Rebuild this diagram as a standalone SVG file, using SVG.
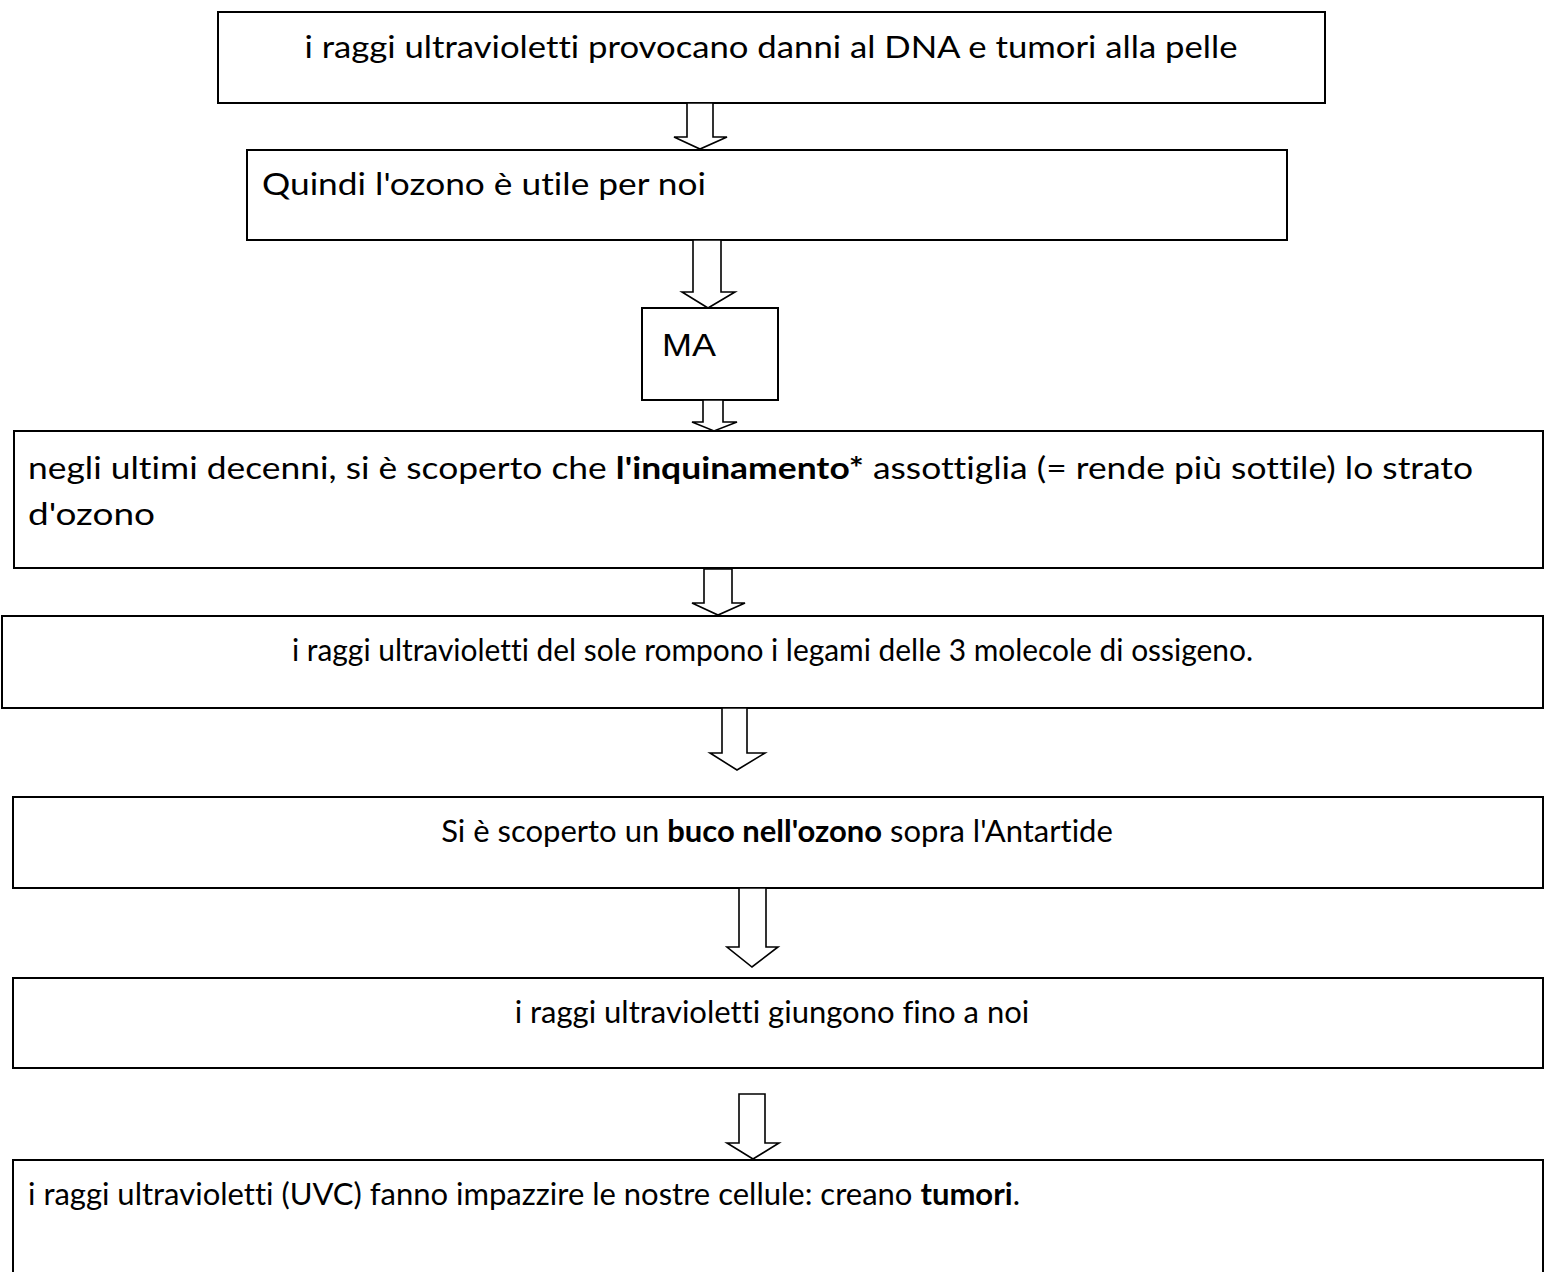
<svg xmlns="http://www.w3.org/2000/svg" width="1544" height="1272" viewBox="0 0 1544 1272">
<style>
.box{fill:#fff;stroke:#000;stroke-width:2}
.arr{fill:#fff;stroke:#000;stroke-width:1.6;stroke-linejoin:miter}
.t{font-family:Lato,"Open Sans","Liberation Sans",sans-serif;font-size:31px;fill:#000;font-variant-ligatures:none}
.m{text-anchor:middle}
.b{font-weight:bold}
.ma{font-family:"Liberation Sans",Arial,sans-serif;font-size:32px;fill:#000}
</style>
<rect width="1544" height="1272" fill="#fff"/>
<g id="n1"><rect class="box" x="218" y="12" width="1107" height="91"/>
<text class="t m" x="771" y="58" textLength="933" lengthAdjust="spacingAndGlyphs">i raggi ultravioletti provocano danni al DNA e tumori alla pelle</text></g>
<g id="n2"><rect class="box" x="247" y="150" width="1040" height="90"/>
<text class="t" x="262" y="195" textLength="444" lengthAdjust="spacingAndGlyphs">Quindi l'ozono è utile per noi</text></g>
<g id="n3"><rect class="box" x="642" y="308" width="136" height="92"/>
<text class="ma" x="662" y="356" textLength="54" lengthAdjust="spacingAndGlyphs">MA</text></g>
<g id="n4"><rect class="box" x="14" y="431" width="1529" height="137"/>
<text class="t" x="28" y="479" textLength="1445" lengthAdjust="spacingAndGlyphs">negli ultimi decenni, si è scoperto che <tspan class="b">l'inquinamento*</tspan> assottiglia (= rende più sottile) lo strato</text>
<text class="t" x="28" y="525" textLength="127" lengthAdjust="spacingAndGlyphs">d'ozono</text></g>
<g id="n5"><rect class="box" x="2" y="616" width="1541" height="92"/>
<text class="t m" x="772.5" y="661" textLength="961" lengthAdjust="spacingAndGlyphs">i raggi ultravioletti del sole rompono i legami delle 3 molecole di ossigeno.</text></g>
<g id="n6"><rect class="box" x="13" y="797" width="1530" height="91"/>
<text class="t m" x="777" y="842">Si è scoperto un <tspan class="b">buco nell'ozono</tspan> sopra l'Antartide</text></g>
<g id="n7"><rect class="box" x="13" y="978" width="1530" height="90"/>
<text class="t m" x="772" y="1023">i raggi ultravioletti giungono fino a noi</text></g>
<g id="n8"><rect class="box" x="13" y="1160" width="1530" height="130"/>
<text class="t" x="28" y="1205">i raggi ultravioletti (UVC) fanno impazzire le nostre cellule: creano <tspan class="b">tumori</tspan>.</text></g>
<g id="connectors">
<polygon class="arr" points="687,103 713,103 713,137 727,137 700,149 674,137 687,137"/>
<polygon class="arr" points="693,240 721,240 721,292 735,292 708,308 682,292 693,292"/>
<polygon class="arr" points="703,400 723,400 723,422 737,422 714,431 692,422 703,422"/>
<polygon class="arr" points="704,569 732,569 732,603 745,603 718,615 692,603 704,603"/>
<polygon class="arr" points="722,708 747,708 747,753 765,753 737,770 710,753 722,753"/>
<polygon class="arr" points="739,888 766,888 766,947 778,947 752,967 727,947 739,947"/>
<polygon class="arr" points="739,1094 765,1094 765,1143 779,1143 753,1159 727,1143 739,1143"/>
</g>
</svg>
